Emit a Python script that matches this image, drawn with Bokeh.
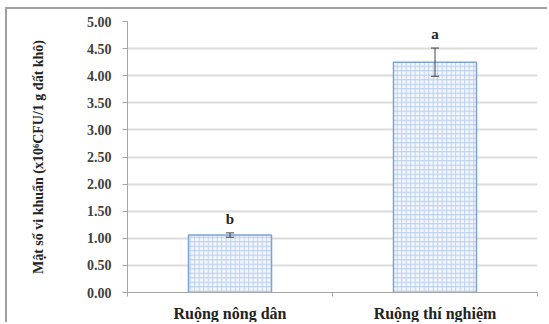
from bokeh.plotting import figure
from bokeh.models import (ColumnDataSource, Range1d, FixedTicker, Whisker, LabelSet,
                          NumeralTickFormatter)
from bokeh.embed import file_html
from bokeh.resources import INLINE

categories = ["Ruộng nông dân", "Ruộng thí nghiệm"]
values = [1.06, 4.25]
errors = [0.04, 0.26]
letters = ["b", "a"]
y_ticks = [0.0, 0.5, 1.0, 1.5, 2.0, 2.5, 3.0, 3.5, 4.0, 4.5, 5.0]

xs = [i + 0.5 for i in range(len(categories))]
src = ColumnDataSource(dict(
    x=xs, top=values,
    upper=[v + e for v, e in zip(values, errors)],
    lower=[v - e for v, e in zip(values, errors)],
    letter=letters,
))

p = figure(width=542, height=315, output_backend="svg", toolbar_location=None,
           x_range=Range1d(0, len(categories)), y_range=Range1d(0, 5))
p.styles = {"margin-left": "5px", "margin-top": "7px",
            "border-left": "2px solid #a0a0a0", "border-top": "2px solid #a0a0a0"}
p.min_border_left = 120
p.min_border_top = 12
p.min_border_right = 12
p.min_border_bottom = 29
p.outline_line_color = None
p.background_fill_color = "white"
p.border_fill_color = "white"

p.vbar(x="x", top="top", width=0.405, source=src,
       fill_color="#f3f7fd", line_color="#7fa3d6", line_width=1.5,
       hatch_pattern="+", hatch_color="#bcd0ec", hatch_scale=4.5, hatch_weight=1)

w = Whisker(base="x", upper="upper", lower="lower", source=src,
            line_color="#404040", line_width=1, level="overlay")
w.upper_head.size = 8
w.lower_head.size = 8
w.upper_head.line_color = "#404040"
w.lower_head.line_color = "#404040"
p.add_layout(w)

labels = LabelSet(x="x", y="upper", text="letter", source=src,
                  text_align="center", text_baseline="bottom", y_offset=6,
                  text_font="Liberation Serif", text_font_style="bold",
                  text_font_size="15px", text_color="#222222")
p.add_layout(labels)

p.yaxis.ticker = FixedTicker(ticks=y_ticks)
p.yaxis.formatter = NumeralTickFormatter(format="0.00")
p.yaxis.major_label_text_font = "Liberation Serif"
p.yaxis.major_label_text_font_style = "bold"
p.yaxis.major_label_text_font_size = "14px"
p.yaxis.major_label_text_color = "#404040"
p.yaxis.major_tick_out = 5
p.yaxis.major_tick_in = 0
p.yaxis.minor_tick_out = 0
p.yaxis.minor_tick_in = 0
p.yaxis.major_tick_line_color = "#a6a6a6"
p.yaxis.axis_line_color = "#a6a6a6"
p.yaxis.major_label_standoff = 11
p.yaxis.axis_label = "Mật số vi khuẩn (x10⁶CFU/1 g đất khô)"
p.yaxis.axis_label_text_font = "Liberation Serif"
p.yaxis.axis_label_text_font_style = "bold"
p.yaxis.axis_label_text_font_size = "14px"
p.yaxis.axis_label_text_color = "#222222"
p.yaxis.axis_label_standoff = 38

p.xaxis.ticker = FixedTicker(ticks=xs, minor_ticks=[0, 1, 2])
p.xaxis.major_label_overrides = {x: c for x, c in zip(xs, categories)}
p.xaxis.major_label_text_font = "Liberation Serif"
p.xaxis.major_label_text_font_style = "bold"
p.xaxis.major_label_text_font_size = "16px"
p.xaxis.major_label_text_color = "#222222"
p.xaxis.major_tick_out = 0
p.xaxis.major_tick_in = 0
p.xaxis.minor_tick_out = 4
p.xaxis.minor_tick_in = 0
p.xaxis.minor_tick_line_color = "#a6a6a6"
p.xaxis.axis_line_color = "#a6a6a6"
p.xaxis.major_label_standoff = 8

p.xgrid.grid_line_color = None
p.ygrid.ticker = FixedTicker(ticks=y_ticks)
p.ygrid.grid_line_color = "#dcdcdc"
p.ygrid.grid_line_width = 2

open("out.html", "w").write(file_html(p, INLINE))
